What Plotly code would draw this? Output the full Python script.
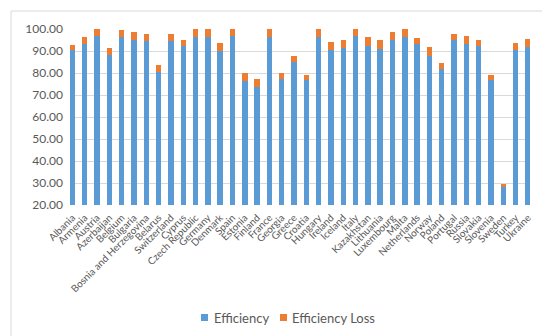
import plotly.graph_objects as go

countries = ["Albania", "Armenia", "Austria", "Azerbaijan", "Belgium", "Bulgaria",
             "Bosnia and Herzegovina", "Belarus", "Switzerland", "Cyprus", "Czech Republic",
             "Germany", "Denmark", "Spain", "Estonia", "Finland", "France", "Georgia",
             "Greece", "Croatia", "Hungary", "Ireland", "Iceland", "Italy", "Kazakhstan",
             "Lithuania", "Luxembourg", "Malta", "Netherlands", "Norway", "Poland",
             "Portugal", "Russia", "Slovakia", "Slovenia", "Sweden", "Turkey", "Ukraine"]

efficiency = [90.3, 93.2, 96.8, 88.0, 96.2, 95.2, 94.7, 80.6, 94.7, 92.4, 96.2,
              96.2, 89.9, 96.8, 76.2, 73.8, 96.5, 77.4, 85.0, 76.8, 96.5, 90.6,
              91.4, 96.8, 92.3, 91.1, 95.2, 96.2, 93.2, 87.7, 81.7, 95.0, 93.2,
              92.3, 76.8, 28.3, 90.6, 91.7]

total = [92.9, 96.5, 99.9, 91.4, 99.5, 98.6, 97.6, 83.8, 97.9, 95.2, 99.9,
         99.9, 93.8, 99.9, 79.9, 77.1, 99.9, 79.8, 87.6, 79.1, 99.9, 93.9,
         95.2, 99.9, 96.2, 95.2, 98.5, 99.9, 95.9, 91.7, 84.7, 97.9, 96.8,
         95.2, 79.1, 29.5, 93.6, 95.6]

efficiency_loss = [round(t - e, 2) for t, e in zip(total, efficiency)]

y_ticks = [20, 30, 40, 50, 60, 70, 80, 90, 100]
series_names = ["Efficiency", "Efficiency Loss"]
series_colors = ["#5B9BD5", "#ED7D31"]

fig = go.Figure()
fig.add_trace(go.Bar(x=countries, y=efficiency, name=series_names[0],
                     marker=dict(color=series_colors[0], line=dict(width=0))))
fig.add_trace(go.Bar(x=countries, y=efficiency_loss, name=series_names[1],
                     marker=dict(color=series_colors[1], line=dict(width=0))))

L, R, T, B = 62, 28, 21, 139
W, H = 550, 336
pw, ph = W - L - R, H - T - B

def px_x(p):
    return (p - L) / pw

def px_y(p):
    return (H - B - p) / ph

# legend drawn manually (small squares + text)
legend_sq = [193, 272]
legend_txt = [204, 282]
annotations = []
shapes = [dict(type="rect", xref="paper", yref="paper",
               x0=px_x(3), x1=px_x(547), y0=px_y(332), y1=px_y(3),
               line=dict(color="#D9D9D9", width=1), layer="below")]
for name, col, sx, tx in zip(series_names, series_colors, legend_sq, legend_txt):
    shapes.append(dict(type="rect", xref="paper", yref="paper",
                       x0=px_x(sx), x1=px_x(sx + 7), y0=px_y(313), y1=px_y(306),
                       fillcolor=col, line=dict(width=0)))
    annotations.append(dict(
        xref="paper", yref="paper", x=px_x(tx), y=px_y(309.5),
        xanchor="left", yanchor="middle", showarrow=False, text=name,
        font=dict(size=13, color="#595959", family="Lato, sans-serif")))

fig.update_layout(
    width=W, height=H,
    barmode="stack", bargap=0.56,
    margin=dict(l=L, r=R, t=T, b=B),
    paper_bgcolor="white", plot_bgcolor="white",
    font=dict(family="Lato, Carlito, sans-serif", color="#595959"),
    showlegend=False,
    xaxis=dict(tickangle=-45, tickfont=dict(size=10, color="#595959"),
               range=[-0.2, 37.17],
               showgrid=False, showline=False, ticks="",
               automargin=False, ticklabelstandoff=4),
    yaxis=dict(range=[20, 100], tickvals=y_ticks, tickformat=".2f",
               tickfont=dict(size=12, color="#595959"),
               showgrid=True, gridcolor="#D9D9D9", gridwidth=1,
               zeroline=False, showline=False, ticks="", automargin=False,
               ticklabelstandoff=6),
    annotations=annotations,
    shapes=shapes,
)

fig.write_html("out.html")
